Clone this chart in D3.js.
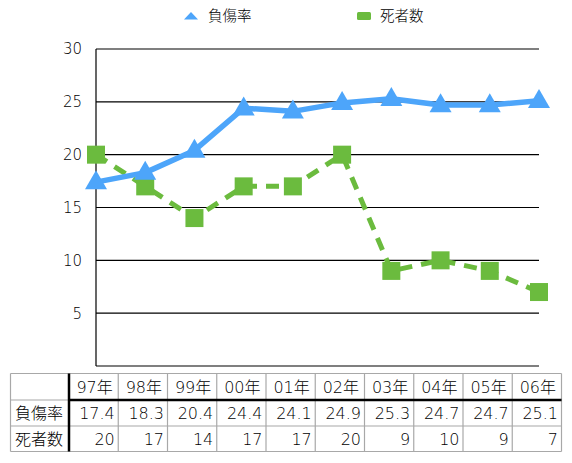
<!DOCTYPE html>
<html><head><meta charset="utf-8">
<script src="https://cdn.jsdelivr.net/npm/d3@7"></script>
<style>
html,body{margin:0;padding:0;background:#fff;}
text{font-family:"DejaVu Sans","Noto Sans CJK JP",sans-serif;font-weight:300;}
</style>
</head><body>
<svg id="chart" width="572" height="463"></svg>
<script>
const years = ["97年","98年","99年","00年","01年","02年","03年","04年","05年","06年"];
const injuryRate = [17.4,18.3,20.4,24.4,24.1,24.9,25.3,24.7,24.7,25.1];
const deaths = [20,17,14,17,17,20,9,10,9,7];
const yTicks = [5,10,15,20,25,30];
const seriesNames = ["負傷率","死者数"];

(function(){
const blue = "#4da5fa", green = "#6bbb3e";
const txt = "#000";
const svg = d3.select("#chart");
const pL = 96, pR = 539, pT = 49, pB = 366;

const x = d3.scalePoint().domain(years).range([pL, pR]);
const y = d3.scaleLinear().domain([0,30]).range([pB, pT]);

svg.append("g").selectAll("line").data(yTicks).join("line")
  .attr("x1", pL).attr("x2", pR)
  .attr("y1", d=>y(d)).attr("y2", d=>y(d))
  .attr("stroke","#000").attr("stroke-width",1.2);
svg.append("line").attr("x1",pL).attr("x2",pL).attr("y1",pT).attr("y2",pB).attr("stroke","#000").attr("stroke-width",1.2);
svg.append("line").attr("x1",pL).attr("x2",pR).attr("y1",pB).attr("y2",pB).attr("stroke","#000").attr("stroke-width",1.2);
svg.append("g").selectAll("text").data(yTicks).join("text")
  .attr("x", 82).attr("y", d=>y(d)).attr("dy","0.36em")
  .attr("text-anchor","end").attr("font-size",15).attr("fill",txt)
  .text(d=>d);

const line = d3.line().x((d,i)=>x(years[i])).y(d=>y(d));

svg.append("path").datum(deaths).attr("d", line).attr("fill","none")
  .attr("stroke",green).attr("stroke-width",5).attr("stroke-dasharray","13,9");
svg.append("g").selectAll("rect").data(deaths).join("rect")
  .attr("x",(d,i)=>x(years[i])-9).attr("y",d=>y(d)-9).attr("width",18).attr("height",18)
  .attr("fill",green);

svg.append("path").datum(injuryRate).attr("d", line).attr("fill","none")
  .attr("stroke",blue).attr("stroke-width",5.5).attr("stroke-linejoin","round");
const tri = (cx,cy,w,h)=>`M${cx},${cy-h*0.62}L${cx+w/2},${cy+h*0.38}L${cx-w/2},${cy+h*0.38}Z`;
svg.append("g").selectAll("path").data(injuryRate).join("path")
  .attr("d",(d,i)=>tri(x(years[i]), y(d), 22, 19))
  .attr("fill",blue);

// legend
svg.append("path").attr("d", "M191,12L198,19.5L184,19.5Z").attr("fill",blue);
svg.append("text").attr("x",208).attr("y",16).attr("dy","0.36em").attr("font-size",14.5).attr("fill",txt).text(seriesNames[0]);
svg.append("rect").attr("x",357).attr("y",12).attr("width",14).attr("height",8).attr("rx",1.5).attr("fill",green);
svg.append("text").attr("x",380).attr("y",16).attr("dy","0.36em").attr("font-size",14.5).attr("fill",txt).text(seriesNames[1]);

// table
const tL = 10.5, tR = 561.5, c0 = 69, rows = [373.5, 400, 426, 451.5];
const cw = (tR - c0)/years.length;
const g = svg.append("g");
const gray = "#a8a8a8";
rows.forEach(ry=>g.append("line").attr("x1",tL).attr("x2",tR).attr("y1",ry).attr("y2",ry).attr("stroke",gray).attr("stroke-width",1.2));
g.append("line").attr("x1",tL).attr("x2",tL).attr("y1",rows[0]).attr("y2",rows[3]).attr("stroke",gray).attr("stroke-width",1.2);
years.forEach((yr,i)=>{
  const xx = c0 + cw*(i+1);
  g.append("line").attr("x1",xx).attr("x2",xx).attr("y1",rows[0]).attr("y2",rows[3]).attr("stroke",gray).attr("stroke-width",1.2);
});
g.append("line").attr("x1",c0).attr("x2",tR).attr("y1",rows[1]).attr("y2",rows[1]).attr("stroke","#000").attr("stroke-width",2.5);
g.append("line").attr("x1",c0).attr("x2",c0).attr("y1",rows[0]).attr("y2",rows[3]).attr("stroke","#000").attr("stroke-width",2.5);

const fs = 16;
years.forEach((yr,i)=>{
  g.append("text").attr("x", c0 + cw*(i+0.5)+1).attr("y",(rows[0]+rows[1])/2).attr("dy","0.36em")
   .attr("text-anchor","middle").attr("font-size",fs).attr("fill",txt).text(yr);
  g.append("text").attr("x", c0 + cw*(i+1)-3.5).attr("y",(rows[1]+rows[2])/2).attr("dy","0.36em")
   .attr("text-anchor","end").attr("font-size",fs).attr("fill",txt).text(injuryRate[i].toFixed(1));
  g.append("text").attr("x", c0 + cw*(i+1)-3.5).attr("y",(rows[2]+rows[3])/2).attr("dy","0.36em")
   .attr("text-anchor","end").attr("font-size",fs).attr("fill",txt).text(deaths[i]);
});
seriesNames.forEach((s,j)=>{
  g.append("text").attr("x",15).attr("y",(rows[j+1]+rows[j+2])/2).attr("dy","0.36em")
   .attr("font-size",fs).attr("fill",txt).text(s);
});
})();
</script>
</body></html>
